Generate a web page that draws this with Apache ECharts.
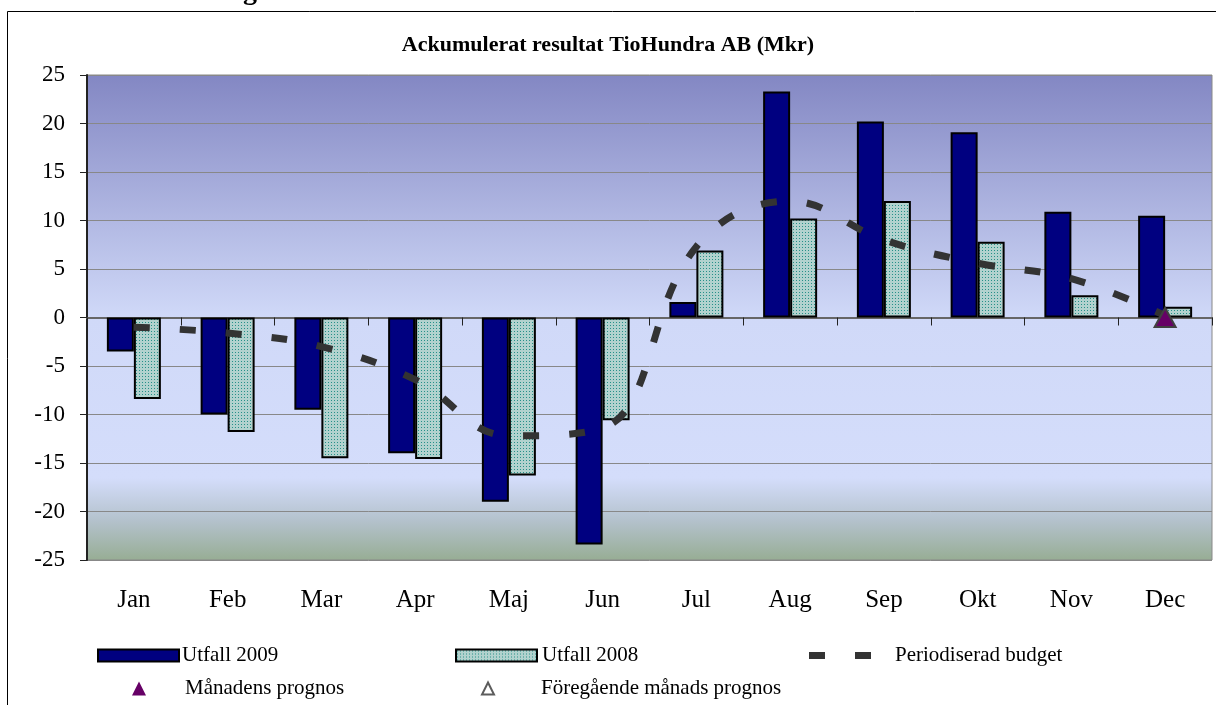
<!DOCTYPE html>
<html>
<head>
<meta charset="utf-8">
<script src="https://cdn.jsdelivr.net/npm/echarts@6/dist/echarts.min.js"></script>
<style>
html,body{margin:0;padding:0;background:#fff;}
#chart{width:1216px;height:705px;}
</style>
</head>
<body>
<div id="chart"></div>
<script>
var categories = ['Jan','Feb','Mar','Apr','Maj','Jun','Jul','Aug','Sep','Okt','Nov','Dec'];
var utfall2009 = [-3.5, -10.0, -9.5, -14.0, -19.0, -23.4, 1.6, 23.3, 20.2, 19.1, 10.9, 10.5];
var utfall2008 = [-8.4, -11.8, -14.5, -14.6, -16.3, -10.6, 6.9, 10.2, 12.0, 7.8, 2.3, 1.1];
var budget = [-1.0, -1.6, -3.0, -6.4, -12.2, -11.4, 7.3, 12.0, 8.0, 5.6, 4.0, 0.2];
var manadensPrognos = [null, null, null, null, null, null, null, null, null, null, null, 0];
var foregaendePrognos = [];
var yTicks = {min: -25, max: 25, interval: 5};

var FONT = "'Liberation Serif','Times New Roman',serif";

function makePattern() {
  var c = document.createElement('canvas');
  c.width = 3; c.height = 3;
  var ctx = c.getContext('2d');
  ctx.fillStyle = '#b2d2ce';
  ctx.fillRect(0, 0, 3, 3);
  ctx.fillStyle = '#279089';
  ctx.fillRect(1, 1, 1, 1);
  return c;
}
var pattern = {image: makePattern(), repeat: 'repeat'};

var chart = echarts.init(document.getElementById('chart'), null, {renderer: 'canvas'});

var legendText = function (pad) {
  return {fontFamily: FONT, fontSize: 21, color: '#000', padding: [0, 0, 0, pad]};
};

var option = {
  animation: false,
  backgroundColor: '#ffffff',
  title: {
    text: 'Ackumulerat resultat TioHundra AB (Mkr)',
    left: 'center',
    top: 34,
    padding: 0,
    textStyle: {fontFamily: FONT, fontWeight: 'bold', fontSize: 22, color: '#000'}
  },
  graphic: [
    {type: 'rect', shape: {x: 7.5, y: 11.5, width: 1400, height: 900}, style: {fill: 'none', stroke: '#000', lineWidth: 1}, z: -1},
    {type: 'text', left: 243, top: -22, style: {text: 'g', font: "bold 28px 'Liberation Serif', serif", fill: '#000'}}
  ],
  grid: {
    left: 87, right: 4, top: 75, bottom: 145,
    show: true,
    borderColor: '#888888', borderWidth: 1,
    backgroundColor: {
      type: 'linear', x: 0, y: 0, x2: 0, y2: 1,
      colorStops: [
        {offset: 0, color: '#8387c3'},
        {offset: 0.5, color: '#d0d9f8'},
        {offset: 0.83, color: '#d4ddfb'},
        {offset: 0.92, color: '#b3c1cb'},
        {offset: 1, color: '#97ad94'}
      ]
    }
  },
  legend: [
    {data: [{name: 'Utfall 2009', icon: 'rect'}], left: 97, top: 645, padding: 0, itemWidth: 81, itemHeight: 12,
     textStyle: legendText(-2)},
    {data: [{name: 'Utfall 2008', icon: 'rect'}], left: 455, top: 645, padding: 0, itemWidth: 81, itemHeight: 12,
     textStyle: legendText(0)},
    {data: [{name: 'Periodiserad budget', icon: 'path://M0,0h16v7h-16z M46,0h16v7h-16z'}], left: 809, top: 645, padding: 0, itemWidth: 62, itemHeight: 7,
     textStyle: legendText(19)},
    {data: [{name: 'Månadens prognos', icon: 'triangle'}], left: 132, top: 678, padding: 0, itemWidth: 14, itemHeight: 14,
     itemStyle: {borderWidth: 0},
     textStyle: legendText(34)},
    {data: [{name: 'Föregående månads prognos', icon: 'triangle'}], left: 481, top: 678, padding: 0, itemWidth: 12, itemHeight: 12,
     textStyle: legendText(42)}
  ],
  xAxis: [
    {
      type: 'category', data: categories, position: 'bottom',
      axisLine: {show: false, onZero: false}, axisTick: {show: false},
      axisLabel: {fontFamily: FONT, fontSize: 25, color: '#000', margin: 28},
      splitLine: {show: false}
    },
    {
      type: 'category', data: categories, position: 'bottom',
      axisLine: {show: true, onZero: true, onZeroAxisIndex: 0, lineStyle: {color: '#666', width: 2}},
      axisTick: {show: true, inside: false, length: 8, lineStyle: {color: '#222', width: 1}},
      axisLabel: {show: false},
      splitLine: {show: false}
    }
  ],
  yAxis: {
    type: 'value', min: yTicks.min, max: yTicks.max, interval: yTicks.interval,
    axisLine: {show: true, lineStyle: {color: '#222', width: 2}},
    axisTick: {show: true, length: 7, lineStyle: {color: '#222', width: 1}},
    axisLabel: {fontFamily: FONT, fontSize: 23, color: '#000', margin: 22},
    splitLine: {show: true, lineStyle: {color: '#888888', width: 1}}
  },
  series: [
    {name: 'Utfall 2009', type: 'bar', data: utfall2009, barWidth: 27, barGap: '0%',
     itemStyle: {color: '#000080', borderColor: '#000', borderWidth: 2}},
    {name: 'Utfall 2008', type: 'bar', data: utfall2008, barWidth: 27, barGap: '0%',
     itemStyle: {color: pattern, borderColor: '#000', borderWidth: 2}},
    {name: 'Periodiserad budget', type: 'line', data: budget, smooth: 0.4,
     showSymbol: false, symbol: 'none',
     itemStyle: {color: '#333333'},
     lineStyle: {color: '#333333', width: 7, type: [16, 30], cap: 'butt'}, z: 3},
    {name: 'Månadens prognos', type: 'scatter', data: manadensPrognos, symbol: 'triangle', symbolSize: [21, 19],
     itemStyle: {color: '#660066', borderColor: '#404040', borderWidth: 2, opacity: 1}, z: 5},
    {name: 'Föregående månads prognos', type: 'scatter', data: foregaendePrognos, symbol: 'triangle', symbolSize: 12,
     itemStyle: {color: '#ffffff', borderColor: '#333333', borderWidth: 2}, z: 5}
  ]
};
chart.setOption(option);
</script>
</body>
</html>
